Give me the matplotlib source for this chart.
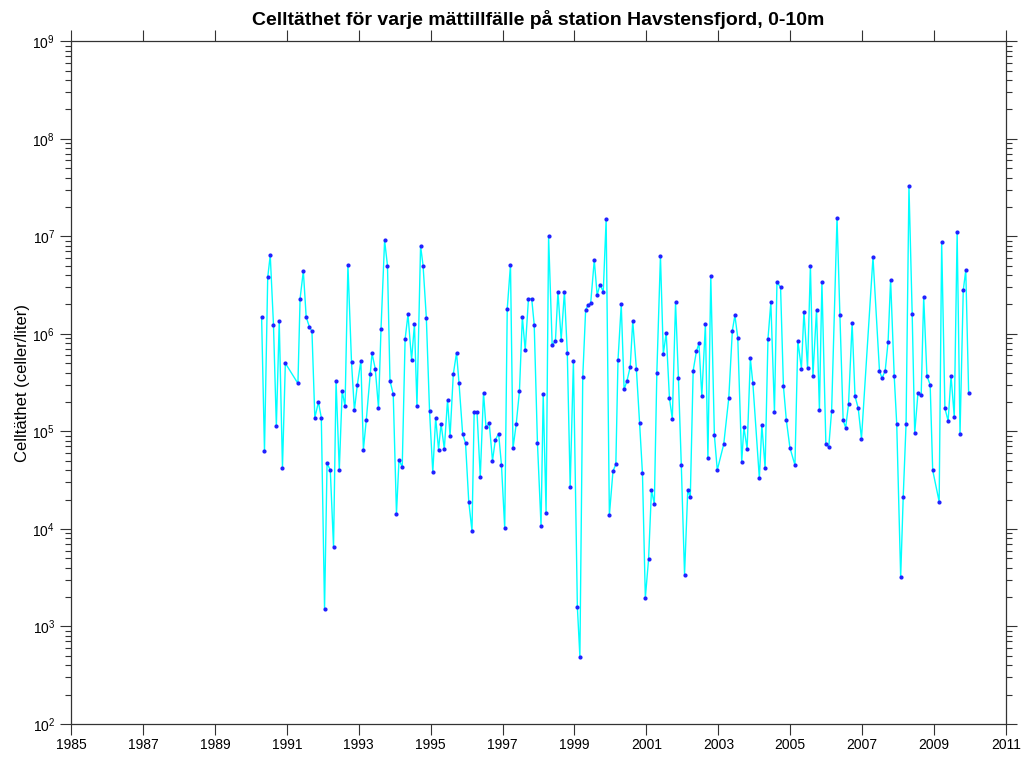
import numpy as np
import matplotlib
matplotlib.use("Agg")
import matplotlib.pyplot as plt
from matplotlib.ticker import LogLocator, FixedLocator

plt.rcParams['font.family'] = ['Liberation Sans', 'DejaVu Sans']

TITLE = 'Celltäthet för varje mättillfälle på station Havstensfjord, 0-10m'
YLABEL = 'Celltäthet (celler/liter)'

# sampling dates (decimal year) and cell counts
dates = [
    1990.30, 1990.38, 1990.47, 1990.54, 1990.63, 1990.71, 1990.79, 1990.88, 1990.96, 1991.31,
    1991.37, 1991.46, 1991.54, 1991.63, 1991.70, 1991.78, 1991.88, 1991.96, 1992.05, 1992.12,
    1992.21, 1992.30, 1992.37, 1992.46, 1992.54, 1992.62, 1992.70, 1992.80, 1992.88, 1992.96,
    1993.06, 1993.13, 1993.21, 1993.32, 1993.37, 1993.46, 1993.55, 1993.62, 1993.72, 1993.80,
    1993.87, 1993.96, 1994.05, 1994.12, 1994.21, 1994.29, 1994.37, 1994.47, 1994.55, 1994.62,
    1994.72, 1994.79, 1994.88, 1994.97, 1995.06, 1995.14, 1995.22, 1995.29, 1995.38, 1995.47,
    1995.54, 1995.63, 1995.72, 1995.79, 1995.89, 1995.97, 1996.06, 1996.15, 1996.21, 1996.29,
    1996.38, 1996.47, 1996.54, 1996.63, 1996.72, 1996.80, 1996.89, 1996.97, 1997.06, 1997.13,
    1997.22, 1997.29, 1997.38, 1997.47, 1997.55, 1997.63, 1997.72, 1997.81, 1997.88, 1997.97,
    1998.07, 1998.13, 1998.21, 1998.28, 1998.38, 1998.47, 1998.54, 1998.63, 1998.72, 1998.80,
    1998.88, 1998.97, 1999.08, 1999.15, 1999.23, 1999.31, 1999.38, 1999.45, 1999.55, 1999.63,
    1999.71, 1999.80, 1999.88, 1999.97, 2000.07, 2000.15, 2000.21, 2000.30, 2000.38, 2000.46,
    2000.55, 2000.62, 2000.72, 2000.81, 2000.89, 2000.97, 2001.06, 2001.14, 2001.22, 2001.29,
    2001.39, 2001.47, 2001.55, 2001.64, 2001.72, 2001.81, 2001.89, 2001.97, 2002.06, 2002.15,
    2002.22, 2002.30, 2002.39, 2002.46, 2002.54, 2002.64, 2002.71, 2002.79, 2002.89, 2002.97,
    2003.15, 2003.29, 2003.39, 2003.46, 2003.54, 2003.65, 2003.71, 2003.80, 2003.89, 2003.96,
    2004.14, 2004.21, 2004.30, 2004.38, 2004.46, 2004.56, 2004.63, 2004.73, 2004.81, 2004.89,
    2004.99, 2005.13, 2005.21, 2005.31, 2005.38, 2005.48, 2005.56, 2005.63, 2005.73, 2005.81,
    2005.88, 2005.99, 2006.07, 2006.15, 2006.30, 2006.38, 2006.47, 2006.54, 2006.62, 2006.72,
    2006.80, 2006.89, 2006.98, 2007.30, 2007.48, 2007.55, 2007.64, 2007.72, 2007.79, 2007.89,
    2007.96, 2008.07, 2008.14, 2008.22, 2008.30, 2008.39, 2008.46, 2008.55, 2008.64, 2008.71,
    2008.80, 2008.89, 2008.96, 2009.14, 2009.21, 2009.30, 2009.39, 2009.47, 2009.56, 2009.64,
    2009.72, 2009.81, 2009.88, 2009.96,
]
cells = [
    1.48e6, 6.3e4, 3.8e6, 6.4e6, 1.24e6, 1.13e5, 1.35e6, 4.2e4, 5.0e5, 3.1e5,
    2.3e6, 4.4e6, 1.48e6, 1.18e6, 1.06e6, 1.38e5, 2.0e5, 1.38e5, 1.49e3, 4.7e4,
    4.0e4, 6.5e3, 3.3e5, 4.0e4, 2.6e5, 1.8e5, 5.1e6, 5.1e5, 1.65e5, 2.96e5,
    5.3e5, 6.5e4, 1.3e5, 3.9e5, 6.3e5, 4.4e5, 1.74e5, 1.12e6, 9.1e6, 5.0e6,
    3.3e5, 2.4e5, 1.42e4, 5.1e4, 4.3e4, 8.8e5, 1.58e6, 5.4e5, 1.26e6, 1.8e5,
    8.0e6, 5.0e6, 1.47e6, 1.6e5, 3.8e4, 1.38e5, 6.5e4, 1.2e5, 6.6e4, 2.1e5,
    8.9e4, 3.85e5, 6.4e5, 3.1e5, 9.4e4, 7.6e4, 1.9e4, 9.5e3, 1.57e5, 1.57e5,
    3.4e4, 2.5e5, 1.1e5, 1.21e5, 5.0e4, 8.2e4, 9.5e4, 4.5e4, 1.01e4, 1.8e6,
    5.1e6, 6.7e4, 1.19e5, 2.6e5, 1.49e6, 6.8e5, 2.3e6, 2.3e6, 1.24e6, 7.6e4,
    1.07e4, 2.4e5, 1.47e4, 1.0e7, 7.6e5, 8.5e5, 2.7e6, 8.7e5, 2.7e6, 6.4e5,
    2.7e4, 5.3e5, 1.58e3, 4.9e2, 3.6e5, 1.76e6, 1.97e6, 2.06e6, 5.7e6, 2.5e6,
    3.2e6, 2.7e6, 1.5e7, 1.38e4, 3.9e4, 4.6e4, 5.4e5, 2.0e6, 2.7e5, 3.3e5,
    4.6e5, 1.36e6, 4.4e5, 1.22e5, 3.7e4, 1.96e3, 4.9e3, 2.5e4, 1.8e4, 4.0e5,
    6.3e6, 6.2e5, 1.02e6, 2.2e5, 1.34e5, 2.1e6, 3.5e5, 4.5e4, 3.4e3, 2.5e4,
    2.1e4, 4.2e5, 6.6e5, 8.0e5, 2.3e5, 1.25e6, 5.3e4, 3.9e6, 9.1e4, 4.0e4,
    7.4e4, 2.2e5, 1.08e6, 1.55e6, 9.1e5, 4.9e4, 1.1e5, 6.6e4, 5.6e5, 3.1e5,
    3.3e4, 1.16e5, 4.2e4, 8.9e5, 2.1e6, 1.58e5, 3.4e6, 3.0e6, 2.9e5, 1.31e5,
    6.8e4, 4.5e4, 8.5e5, 4.4e5, 1.69e6, 4.5e5, 5.0e6, 3.7e5, 1.77e6, 1.66e5,
    3.4e6, 7.4e4, 6.9e4, 1.63e5, 1.55e7, 1.56e6, 1.3e5, 1.09e5, 1.9e5, 1.29e6,
    2.3e5, 1.72e5, 8.4e4, 6.1e6, 4.2e5, 3.5e5, 4.2e5, 8.3e5, 3.6e6, 3.7e5,
    1.19e5, 3.2e3, 2.1e4, 1.2e5, 3.3e7, 1.58e6, 9.6e4, 2.45e5, 2.36e5, 2.4e6,
    3.7e5, 3.0e5, 4.0e4, 1.9e4, 8.7e6, 1.72e5, 1.28e5, 3.7e5, 1.41e5, 1.1e7,
    9.4e4, 2.8e6, 4.5e6, 2.45e5,
]

xticks = list(range(1985, 2012, 2))


def main():
    fig = plt.figure(figsize=(10.29, 7.58), dpi=100)
    ax = fig.add_axes([0.069, 0.045, 0.9087, 0.9005])

    ax.plot(dates, cells, color='#00ffff', lw=1.0, zorder=2)
    ax.plot(dates, cells, ls='none', marker='o', ms=2.0, mfc='#2020ff',
            mec='#2020ff', zorder=3)

    ax.set_yscale('log')
    ax.set_xlim(1985, 2011)
    ax.set_ylim(1e2, 1e9)

    ax.xaxis.set_major_locator(FixedLocator(xticks))
    ax.set_xticklabels([str(y) for y in xticks])
    ax.yaxis.set_major_locator(LogLocator(base=10, numticks=20))
    ax.yaxis.set_minor_locator(LogLocator(base=10, subs=np.arange(2, 10), numticks=20))

    ax.tick_params(which='both', direction='out', top=True, right=True,
                   labelsize=10, color='#333333', width=0.8)
    ax.tick_params(which='major', length=8)
    ax.tick_params(which='minor', length=4)
    ax.tick_params(axis='x', pad=2)
    for s in ax.spines.values():
        s.set_color('#333333')
        s.set_linewidth(0.9)

    ax.set_title(TITLE, fontsize=14, fontweight='bold', pad=12)
    ax.set_ylabel(YLABEL, fontsize=12, labelpad=2)

    fig.savefig('out.png', dpi=100)


if __name__ == "__main__":
    main()
